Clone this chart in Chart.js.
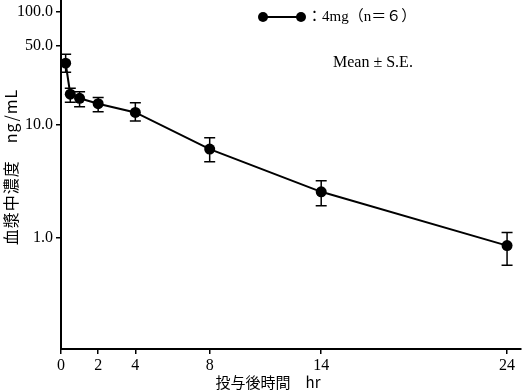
<!DOCTYPE html>
<html>
<head>
<meta charset="utf-8">
<script src="https://cdn.jsdelivr.net/npm/chart.js@4/dist/chart.umd.min.js"></script>
<style>
  html, body { margin: 0; padding: 0; background: #fff; }
  #wrap { width: 522px; height: 391px; position: relative; }
</style>
</head>
<body>
<div id="wrap"><canvas id="c"></canvas></div>
<script>
// time after dosing (hr) and plasma concentration (ng/mL), mean and S.E. bounds
const hours = [0.25, 0.5, 1, 2, 4, 8, 14, 24];
const meanConc = [35.2, 18.7, 17.2, 15.4, 12.9, 6.1, 2.55, 0.85];
const upperSE = [42.3, 21.1, 19.7, 17.5, 15.7, 7.7, 3.2, 1.11];
const lowerSE = [29.3, 15.9, 14.5, 13.1, 10.8, 4.7, 1.92, 0.57];
const xTicks = [0, 2, 4, 8, 14, 24];
const yTicks = [1, 10, 50, 100];

const serif = "'Liberation Serif', 'DejaVu Serif', serif";
const jp = "'Noto Sans CJK JP', sans-serif";

// error bars, drawn under the points
const errorBars = {
  id: "errorBars",
  beforeDatasetsDraw(chart) {
    const { ctx, scales } = chart;
    ctx.save();
    ctx.strokeStyle = "#000";
    ctx.lineWidth = 1.5;
    hours.forEach((t, i) => {
      const x = scales.x.getPixelForValue(t);
      const yt = scales.y.getPixelForValue(upperSE[i]);
      const yb = scales.y.getPixelForValue(lowerSE[i]);
      ctx.beginPath();
      ctx.moveTo(x, yt); ctx.lineTo(x, yb);
      ctx.moveTo(x - 5.5, yt); ctx.lineTo(x + 5.5, yt);
      ctx.moveTo(x - 5.5, yb); ctx.lineTo(x + 5.5, yb);
      ctx.stroke();
    });
    ctx.restore();
  }
};

// titles, legend and note
const labels = {
  id: "labels",
  afterDraw(chart) {
    const { ctx } = chart;
    ctx.save();
    ctx.fillStyle = "#000";
    ctx.strokeStyle = "#000";

    // legend
    ctx.lineWidth = 2;
    ctx.beginPath();
    ctx.moveTo(263, 17); ctx.lineTo(301, 17);
    ctx.stroke();
    [263, 301].forEach((x) => {
      ctx.beginPath();
      ctx.arc(x, 17, 5, 0, Math.PI * 2);
      ctx.fill();
    });
    ctx.font = "15px " + serif + ", " + jp;
    ctx.textBaseline = "middle";
    ctx.textAlign = "left";
    ctx.fillText("：4mg（n＝６）", 307, 17);

    ctx.font = "16px " + serif;
    ctx.fillText("Mean ± S.E.", 333, 63);

    // x title
    ctx.textAlign = "center";
    ctx.font = "15px " + jp + ", " + serif;
    ctx.fillText("投与後時間　hr", 268, 382);

    // y title
    ctx.translate(11, 167);
    ctx.rotate(-Math.PI / 2);
    ctx.font = "16px " + jp + ", " + serif;
    ctx.letterSpacing = "1px";
    ctx.fillText("血漿中濃度　ng/mL", 0, 0);
    ctx.restore();
  }
};

new Chart(document.getElementById("c"), {
  type: "line",
  data: {
    datasets: [{
      data: hours.map((t, i) => ({ x: t, y: meanConc[i] })),
      borderColor: "#000",
      borderWidth: 2,
      backgroundColor: "#000",
      pointRadius: 5.5,
      pointBorderWidth: 0,
      tension: 0,
      clip: false
    }]
  },
  options: {
    responsive: true,
    maintainAspectRatio: false,
    animation: false,
    layout: { autoPadding: false, padding: { top: 0, right: 1, left: 0, bottom: 0 } },
    plugins: { legend: { display: false }, tooltip: { enabled: false } },
    scales: {
      x: {
        type: "linear",
        min: 0,
        max: 24.75,
        afterBuildTicks: (s) => { s.ticks = xTicks.map((v) => ({ value: v })); },
        afterFit: (s) => { s.height = 42; s.paddingLeft = 0; s.paddingRight = 0; },
        border: { color: "#000", width: 2 },
        grid: { drawOnChartArea: false, color: "#000", lineWidth: 1.5, tickLength: 5 },
        ticks: { color: "#000", font: { family: serif, size: 16 }, padding: 2, maxRotation: 0 }
      },
      y: {
        type: "logarithmic",
        min: 0.103,
        max: 128,
        afterBuildTicks: (s) => { s.ticks = yTicks.map((v) => ({ value: v })); },
        afterFit: (s) => { s.width = 61; s.paddingTop = 0; s.paddingBottom = 0; },
        border: { color: "#000", width: 2 },
        grid: { drawOnChartArea: false, color: "#000", lineWidth: 1.5, tickLength: 5 },
        ticks: {
          color: "#000",
          font: { family: serif, size: 16 },
          padding: 3,
          callback: (v) => Number(v).toFixed(1)
        }
      }
    }
  },
  plugins: [errorBars, labels]
});
</script>
</body>
</html>
